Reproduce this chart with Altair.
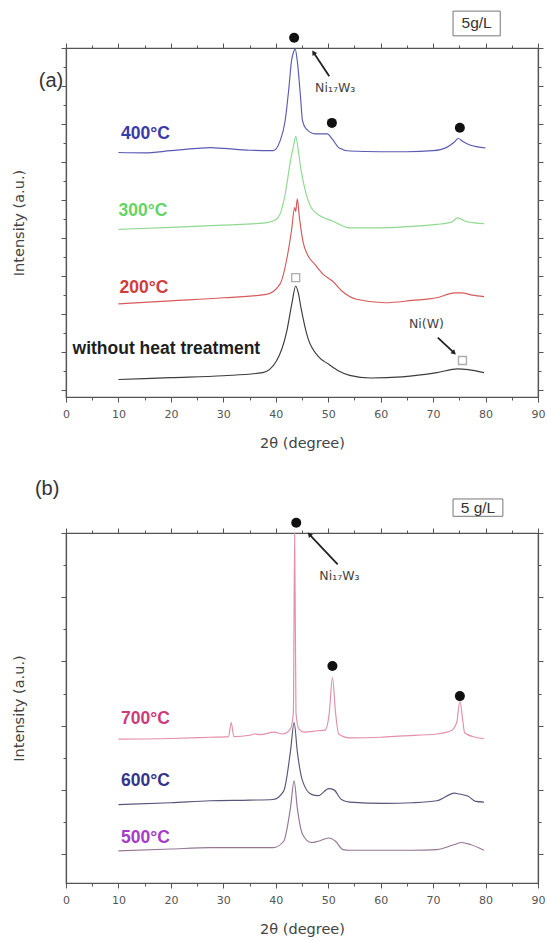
import altair as alt
import pandas as pd

FONT = "Liberation Sans"
AXIS_FONT = "DejaVu Sans"
FRAME = "#555555"

# ---------------- panel (a): 5 g/L, as-plated to 400 °C ----------------
A_NAMES = ["without heat treatment", "200°C", "300°C", "400°C"]

A0_T = [10, 20, 30, 37.5, 40.1, 42.1, 43.1, 43.8, 44.3, 44.8, 46.1, 48.1, 50.1, 52.1,
        54.1, 58.1, 64.1, 70.7, 74.7, 76.7, 79.7]
A0_I = [0.28, 0.33, 0.38, 0.46, 0.76, 1.55, 2.30, 2.74, 2.55, 2.17, 1.38, 0.89, 0.68, 0.50,
        0.39, 0.32, 0.35, 0.46, 0.56, 0.54, 0.46]

A200_T = [10, 20, 30, 38.2, 40.8, 42.1, 43.0, 43.6, 43.8, 44.1, 44.5, 45.2, 46.1, 47.5,
          49.0, 50.8, 52.5, 55.4, 60.8, 66, 70.7, 74.1, 75.4, 77.5, 79.7]
A200_I = [2.27, 2.35, 2.43, 2.52, 2.79, 3.45, 4.20, 4.80, 4.70, 5.03, 4.55, 3.90, 3.55, 3.30,
          3.05, 2.87, 2.62, 2.39, 2.30, 2.36, 2.43, 2.56, 2.56, 2.50, 2.46]

A300_T = [10, 20, 30, 38, 40, 40.8, 41.8, 42.8, 43.5, 43.8, 44.3, 44.8, 45.5, 46.8, 48.5,
          50.8, 54.1, 60, 65, 70.7, 73.5, 74.7, 76, 78, 79.7]
A300_I = [4.23, 4.28, 4.34, 4.40, 4.48, 4.63, 5.16, 6.03, 6.50, 6.68, 6.30, 5.80, 5.32, 4.79, 4.58,
          4.45, 4.27, 4.27, 4.30, 4.36, 4.42, 4.53, 4.45, 4.40, 4.38]

A400_T = [10, 15, 20, 25, 27.5, 30, 35, 39.5, 40.8, 41.8, 42.5, 43.0, 43.4, 43.7, 44.1, 44.7,
          45.1, 45.8, 47.5, 49.8, 50.8, 52.1, 54.1, 60, 65, 70, 72.5, 74, 74.8, 75.6, 77, 78.5, 80]
A400_I = [6.25, 6.24, 6.30, 6.36, 6.38, 6.36, 6.31, 6.30, 6.55, 7.10, 7.95, 8.66, 8.90, 8.97, 8.66, 7.74,
          7.08, 6.87, 6.74, 6.74, 6.60, 6.37, 6.29, 6.27, 6.27, 6.30, 6.38, 6.52, 6.62, 6.55, 6.45, 6.40, 6.37]

A_LINE_COLORS = ["#3c3c3c", "#d65a5a", "#8fd88f", "#5a5ab4"]
A_LABEL_COLORS = ["#1e1e1e", "#d23c3c", "#66d466", "#3a3aaa"]
A_LABEL_T = [1.25, 10.2, 10.0, 10.5]
A_LABEL_I = [1.07, 2.69, 4.71, 6.74]

A_CIRCLE_T = [43.5, 50.7, 75.1]
A_CIRCLE_I = [9.27, 7.03, 6.90]
A_SQUARE_T = [43.8, 75.6]
A_SQUARE_I = [2.96, 0.78]

# arrows: tail (t0, i0) -> head (t1, i1)
A_ARROW_T0 = [50.2, 70.9]
A_ARROW_I0 = [8.26, 1.38]
A_ARROW_T1 = [47.2, 74.0]
A_ARROW_I1 = [8.88, 0.98]
A_ARROW_ANGLES = [326, 132]

A_NOTE_TEXT = ["Ni₁₇W₃", "Ni(W)"]
A_NOTE_T = [47.5, 65.4]
A_NOTE_I = [7.96, 1.73]

A_BOX = {"t0": 73.8, "t1": 82.8, "i0": 9.32, "i1": 9.97, "text": "5g/L"}
A_TAG = {"t": -2.86, "i": 8.13, "text": "(a)"}

# ---------------- panel (b): 5 g/L, 500–700 °C ----------------
B_NAMES = ["500°C", "600°C", "700°C"]

B500_T = [10, 20, 27.5, 35, 39.5, 41.5, 42.8, 43.5, 44.1, 45.1, 46.8, 48.1, 50.1, 51.4,
          52.8, 54.1, 60.8, 66, 70.7, 74.1, 75.4, 77.1, 79.7]
B500_I = [0.05, 0.08, 0.10, 0.10, 0.10, 0.20, 0.72, 1.14, 0.72, 0.31, 0.18, 0.20, 0.25, 0.20,
          0.07, 0.06, 0.06, 0.06, 0.07, 0.15, 0.18, 0.15, 0.06]

B600_T = [10, 20, 27.5, 35, 39.5, 41.5, 42.8, 43.5, 44.1, 45.1, 46.8, 48.1, 50.1, 51.1,
          52.5, 54.1, 60.8, 66, 70.7, 74.1, 74.7, 76.7, 78.1, 79.7]
B600_I = [0.77, 0.80, 0.83, 0.84, 0.85, 0.98, 1.60, 2.05, 1.60, 1.14, 0.93, 0.91, 1.02, 1.00,
          0.85, 0.81, 0.79, 0.80, 0.83, 0.95, 0.94, 0.90, 0.82, 0.81]

B700_T = [10, 20, 27.5, 31.0, 31.5, 32.0, 35.0, 35.9, 37, 39.7, 41.3, 42.8, 43.35, 43.6, 43.85,
          44.4, 45.4, 48.0, 49.4, 50.2, 50.8, 51.4, 52.0, 54.1, 60, 64.1, 70.7, 73.4, 74.5,
          75.1, 75.7, 76.0, 78, 79.7]
B700_I = [1.79, 1.80, 1.82, 1.83, 2.05, 1.83, 1.85, 1.87, 1.86, 1.90, 1.87, 1.95, 2.20, 5.00, 2.20,
          1.95, 1.90, 1.92, 1.93, 2.20, 2.75, 2.20, 1.87, 1.81, 1.82, 1.84, 1.87, 1.92, 2.05,
          2.38, 2.05, 1.89, 1.82, 1.80]

B_LINE_COLORS = ["#957795", "#56567a", "#e28fa8"]
B_LABEL_COLORS = ["#a63cc8", "#34348a", "#cc3c7a"]
B_LABEL_T = [10.5, 10.5, 10.5]
B_LABEL_I = [0.25, 1.14, 2.10]

B_CIRCLE_T = [43.9, 50.8, 75.1]
B_CIRCLE_I = [5.16, 2.93, 2.46]

B_ARROW_T0 = [51.8]
B_ARROW_I0 = [4.51]
B_ARROW_T1 = [46.4]
B_ARROW_I1 = [4.98]
B_ARROW_ANGLES = [317]

B_NOTE_TEXT = ["Ni₁₇W₃"]
B_NOTE_T = [48.3]
B_NOTE_I = [4.33]

B_BOX = {"t0": 73.8, "t1": 83.3, "i0": 5.26, "i1": 5.53, "text": "5 g/L"}
B_TAG = {"t": -3.6, "i": 5.69, "text": "(b)"}

X_TICKS = list(range(0, 91, 5))


def tick_size(test):
    return {"condition": {"test": test, "value": 5}, "value": 3}


def panel(names, ts, vs, line_colors, label_colors, lab_t, lab_i,
          circ_t, circ_i, sq_t, sq_i, a_t0, a_i0, a_t1, a_i1, a_ang,
          note_text, note_t, note_i, box, tag, ydom, height):
    xs = alt.Scale(domain=[0, 90], nice=False, zero=False)
    ys = alt.Scale(domain=ydom, nice=False, zero=False)
    y_ticks = [k / 2 for k in range(int(round(ydom[1] * 2)) + 1)]

    curves = pd.DataFrame(
        [{"series": n, "t": t, "i": v}
         for n, tt, vv in zip(names, ts, vs) for t, v in zip(tt, vv)]
    )

    x_bottom = alt.Axis(orient="bottom", values=X_TICKS,
                        labelExpr="datum.value % 10 === 0 ? datum.label : ''",
                        tickSize=tick_size("datum.value % 10 === 0"),
                        labelFlush=False, labelPadding=6, labelOverlap=False,
                        title="2θ (degree)", titlePadding=17)
    y_left = alt.Axis(orient="left", values=y_ticks, labels=False,
                      tickSize=tick_size("datum.value % 1 === 0"),
                      title="Intensity (a.u.)", titlePadding=34)
    x_top = alt.Axis(orient="top", values=X_TICKS, labels=False,
                     tickSize=tick_size("datum.value % 10 === 0"), title="")
    y_right = alt.Axis(orient="right", values=y_ticks, labels=False,
                       tickSize=tick_size("datum.value % 1 === 0"), title="")

    lines = alt.Chart(curves).mark_line(strokeWidth=1.15, interpolate="monotone").encode(
        x=alt.X("t:Q", scale=xs, axis=x_bottom),
        y=alt.Y("i:Q", scale=ys, axis=y_left),
        color=alt.Color("series:N", scale=alt.Scale(domain=names, range=line_colors),
                        legend=None),
    )

    circles = alt.Chart(pd.DataFrame({"t": circ_t, "i": circ_i})).mark_circle(
        size=100, color="#111111", opacity=1
    ).encode(
        x=alt.X("t:Q", scale=xs, axis=x_top),
        y=alt.Y("i:Q", scale=ys, axis=y_right),
    )

    layers = [lines, circles]

    if sq_t:
        squares = alt.Chart(pd.DataFrame({"t": sq_t, "i": sq_i})).mark_point(
            shape="square", filled=False, size=64, color="#8a8a8a", strokeWidth=1.3
        ).encode(x=alt.X("t:Q", scale=xs, axis=None), y=alt.Y("i:Q", scale=ys, axis=None))
        layers.append(squares)

    arrows = pd.DataFrame({"t0": a_t0, "i0": a_i0, "t1": a_t1, "i1": a_i1})
    layers.append(
        alt.Chart(arrows).mark_rule(strokeWidth=1.8, color="#222222").encode(
            x=alt.X("t0:Q", scale=xs, axis=None), y=alt.Y("i0:Q", scale=ys, axis=None),
            x2="t1:Q", y2="i1:Q",
        )
    )
    for k, ang in enumerate(a_ang):
        head = pd.DataFrame({"t": [a_t1[k]], "i": [a_i1[k]]})
        layers.append(
            alt.Chart(head).mark_point(shape="triangle-up", filled=True, size=30,
                                       angle=ang, color="#222222", opacity=1).encode(
                x=alt.X("t:Q", scale=xs, axis=None), y=alt.Y("i:Q", scale=ys, axis=None)
            )
        )

    notes = pd.DataFrame({"text": note_text, "t": note_t, "i": note_i})
    layers.append(
        alt.Chart(notes).mark_text(align="left", baseline="middle", font=AXIS_FONT,
                                   fontSize=12.5, color="#444444").encode(
            x=alt.X("t:Q", scale=xs, axis=None), y=alt.Y("i:Q", scale=ys, axis=None),
            text="text:N",
        )
    )

    labels = pd.DataFrame({"text": names, "t": lab_t, "i": lab_i, "c": label_colors})
    layers.append(
        alt.Chart(labels).mark_text(align="left", baseline="middle", font=FONT,
                                    fontSize=17.5, fontWeight="bold").encode(
            x=alt.X("t:Q", scale=xs, axis=None), y=alt.Y("i:Q", scale=ys, axis=None),
            text="text:N", color=alt.Color("c:N", scale=None),
        )
    )

    box_df = pd.DataFrame([box])
    layers.append(
        alt.Chart(box_df).mark_rect(fill="white", stroke="#777777", strokeWidth=1).encode(
            x=alt.X("t0:Q", scale=xs, axis=None), x2="t1:Q",
            y=alt.Y("i0:Q", scale=ys, axis=None), y2="i1:Q",
        )
    )
    box_df["tm"] = (box_df["t0"] + box_df["t1"]) / 2
    box_df["im"] = (box_df["i0"] + box_df["i1"]) / 2
    layers.append(
        alt.Chart(box_df).mark_text(font=FONT, fontSize=15.5, color="#333333",
                                    baseline="middle").encode(
            x=alt.X("tm:Q", scale=xs, axis=None), y=alt.Y("im:Q", scale=ys, axis=None),
            text="text:N",
        )
    )

    layers.append(
        alt.Chart(pd.DataFrame([tag])).mark_text(font=FONT, fontSize=20, color="#333333",
                                                 baseline="middle").encode(
            x=alt.X("t:Q", scale=xs, axis=None), y=alt.Y("i:Q", scale=ys, axis=None),
            text="text:N",
        )
    )

    return alt.layer(*layers).properties(width=472, height=height)


panel_a = panel(A_NAMES, [A0_T, A200_T, A300_T, A400_T], [A0_I, A200_I, A300_I, A400_I],
                A_LINE_COLORS, A_LABEL_COLORS, A_LABEL_T, A_LABEL_I,
                A_CIRCLE_T, A_CIRCLE_I, A_SQUARE_T, A_SQUARE_I,
                A_ARROW_T0, A_ARROW_I0, A_ARROW_T1, A_ARROW_I1, A_ARROW_ANGLES,
                A_NOTE_TEXT, A_NOTE_T, A_NOTE_I, A_BOX, A_TAG, [-0.18, 9], 349)

panel_b = panel(B_NAMES, [B500_T, B600_T, B700_T], [B500_I, B600_I, B700_I],
                B_LINE_COLORS, B_LABEL_COLORS, B_LABEL_T, B_LABEL_I,
                B_CIRCLE_T, B_CIRCLE_I, [], [],
                B_ARROW_T0, B_ARROW_I0, B_ARROW_T1, B_ARROW_I1, B_ARROW_ANGLES,
                B_NOTE_TEXT, B_NOTE_T, B_NOTE_I, B_BOX, B_TAG, [-0.45, 5], 350)

chart = alt.vconcat(panel_a, panel_b, spacing=136, bounds="flush").resolve_scale(
    color="independent"
).properties(
    padding={"left": 10, "top": 10, "right": 0, "bottom": 0},
    background="white",
).configure_view(
    stroke=FRAME, strokeWidth=1.2
).configure_axis(
    domainColor=FRAME, domainWidth=1.2, tickColor=FRAME, tickWidth=1,
    labelColor="#555555", labelFont=AXIS_FONT, labelFontSize=11,
    titleColor="#444444", titleFont=AXIS_FONT, titleFontSize=14.5, titleFontWeight="normal",
    grid=False,
)

chart.save("out.html", embed_options={"renderer": "svg", "actions": False})
